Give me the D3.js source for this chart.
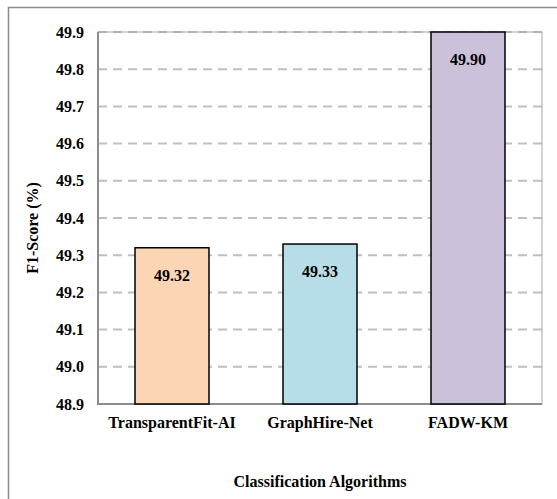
<!DOCTYPE html>
<html>
<head>
<meta charset="utf-8">
<script src="https://cdn.jsdelivr.net/npm/d3@7"></script>
<style>
  body { margin: 0; background: #fff; }
</style>
</head>
<body>
<div id="chart"></div>
<script>
const algorithms = ['TransparentFit-AI', 'GraphHire-Net', 'FADW-KM']
const f1Scores = [49.32, 49.33, 49.90]
const barColors = ['#fcd5b5', '#b7dde8', '#ccc1da']
const yTicks = [48.9, 49.0, 49.1, 49.2, 49.3, 49.4, 49.5, 49.6, 49.7, 49.8, 49.9]

const width = 557
const height = 499
const margin = { top: 32, right: 15, bottom: 95, left: 98 }
const font = "'Liberation Serif', 'Times New Roman', 'DejaVu Serif', serif"

const svg = d3.select('#chart')
  .append('svg')
  .attr('width', width)
  .attr('height', height)

// outer chart frame (runs off the right and bottom edges)
svg.append('rect')
  .attr('x', 8.5)
  .attr('y', 7.5)
  .attr('width', width + 20)
  .attr('height', height + 20)
  .attr('fill', 'none')
  .attr('stroke', '#8c8c8c')
  .attr('stroke-width', 1.5)

const x = d3.scaleBand()
  .domain(algorithms)
  .range([margin.left, width - margin.right])
  .paddingInner(0.5)
  .paddingOuter(0.25)

const y = d3.scaleLinear()
  .domain([48.9, 49.9])
  .range([height - margin.bottom, margin.top])

// gridlines
svg.append('g')
  .selectAll('line')
  .data(yTicks.slice(1))
  .enter()
  .append('line')
  .attr('x1', margin.left)
  .attr('x2', width - margin.right)
  .attr('y1', d => y(d))
  .attr('y2', d => y(d))
  .attr('stroke', '#bfbfbf')
  .attr('stroke-width', 2)
  .attr('stroke-dasharray', '9,6')

// plot area border
svg.append('rect')
  .attr('x', margin.left)
  .attr('y', margin.top)
  .attr('width', width - margin.right - margin.left)
  .attr('height', height - margin.bottom - margin.top)
  .attr('fill', 'none')
  .attr('stroke', '#a6a6a6')
  .attr('stroke-width', 1)

// left and bottom axis lines
svg.append('path')
  .attr('d', `M${margin.left},${margin.top}V${height - margin.bottom}H${width - margin.right}`)
  .attr('fill', 'none')
  .attr('stroke', '#8c8c8c')
  .attr('stroke-width', 2)

// bars
svg.append('g')
  .selectAll('rect')
  .data(algorithms)
  .enter()
  .append('rect')
  .attr('x', d => x(d))
  .attr('y', (d, i) => y(f1Scores[i]))
  .attr('width', x.bandwidth())
  .attr('height', (d, i) => y(48.9) - y(f1Scores[i]))
  .attr('fill', (d, i) => barColors[i])
  .attr('stroke', '#000')
  .attr('stroke-width', 1.5)

const texts = svg.append('g')
  .attr('font-family', font)
  .attr('font-weight', 'bold')
  .attr('font-size', 16)
  .attr('fill', '#000')

// value labels
texts.append('g')
  .selectAll('text')
  .data(algorithms)
  .enter()
  .append('text')
  .attr('x', d => x(d) + x.bandwidth() / 2)
  .attr('y', (d, i) => y(f1Scores[i]) + 33)
  .attr('text-anchor', 'middle')
  .text((d, i) => f1Scores[i].toFixed(2))

// y tick labels
texts.append('g')
  .selectAll('text')
  .data(yTicks)
  .enter()
  .append('text')
  .attr('x', 84)
  .attr('y', d => y(d))
  .attr('dy', '0.35em')
  .attr('text-anchor', 'end')
  .text(d => d.toFixed(1))

// x tick labels
texts.append('g')
  .selectAll('text')
  .data(algorithms)
  .enter()
  .append('text')
  .attr('x', d => x(d) + x.bandwidth() / 2)
  .attr('y', height - margin.bottom + 24)
  .attr('text-anchor', 'middle')
  .text(d => d)

// axis titles
texts.append('text')
  .attr('x', (margin.left + width - margin.right) / 2)
  .attr('y', 487)
  .attr('text-anchor', 'middle')
  .text('Classification Algorithms')

texts.append('text')
  .attr('transform', `translate(38,228) rotate(-90)`)
  .attr('text-anchor', 'middle')
  .text('F1-Score (%)')
</script>
</body>
</html>
